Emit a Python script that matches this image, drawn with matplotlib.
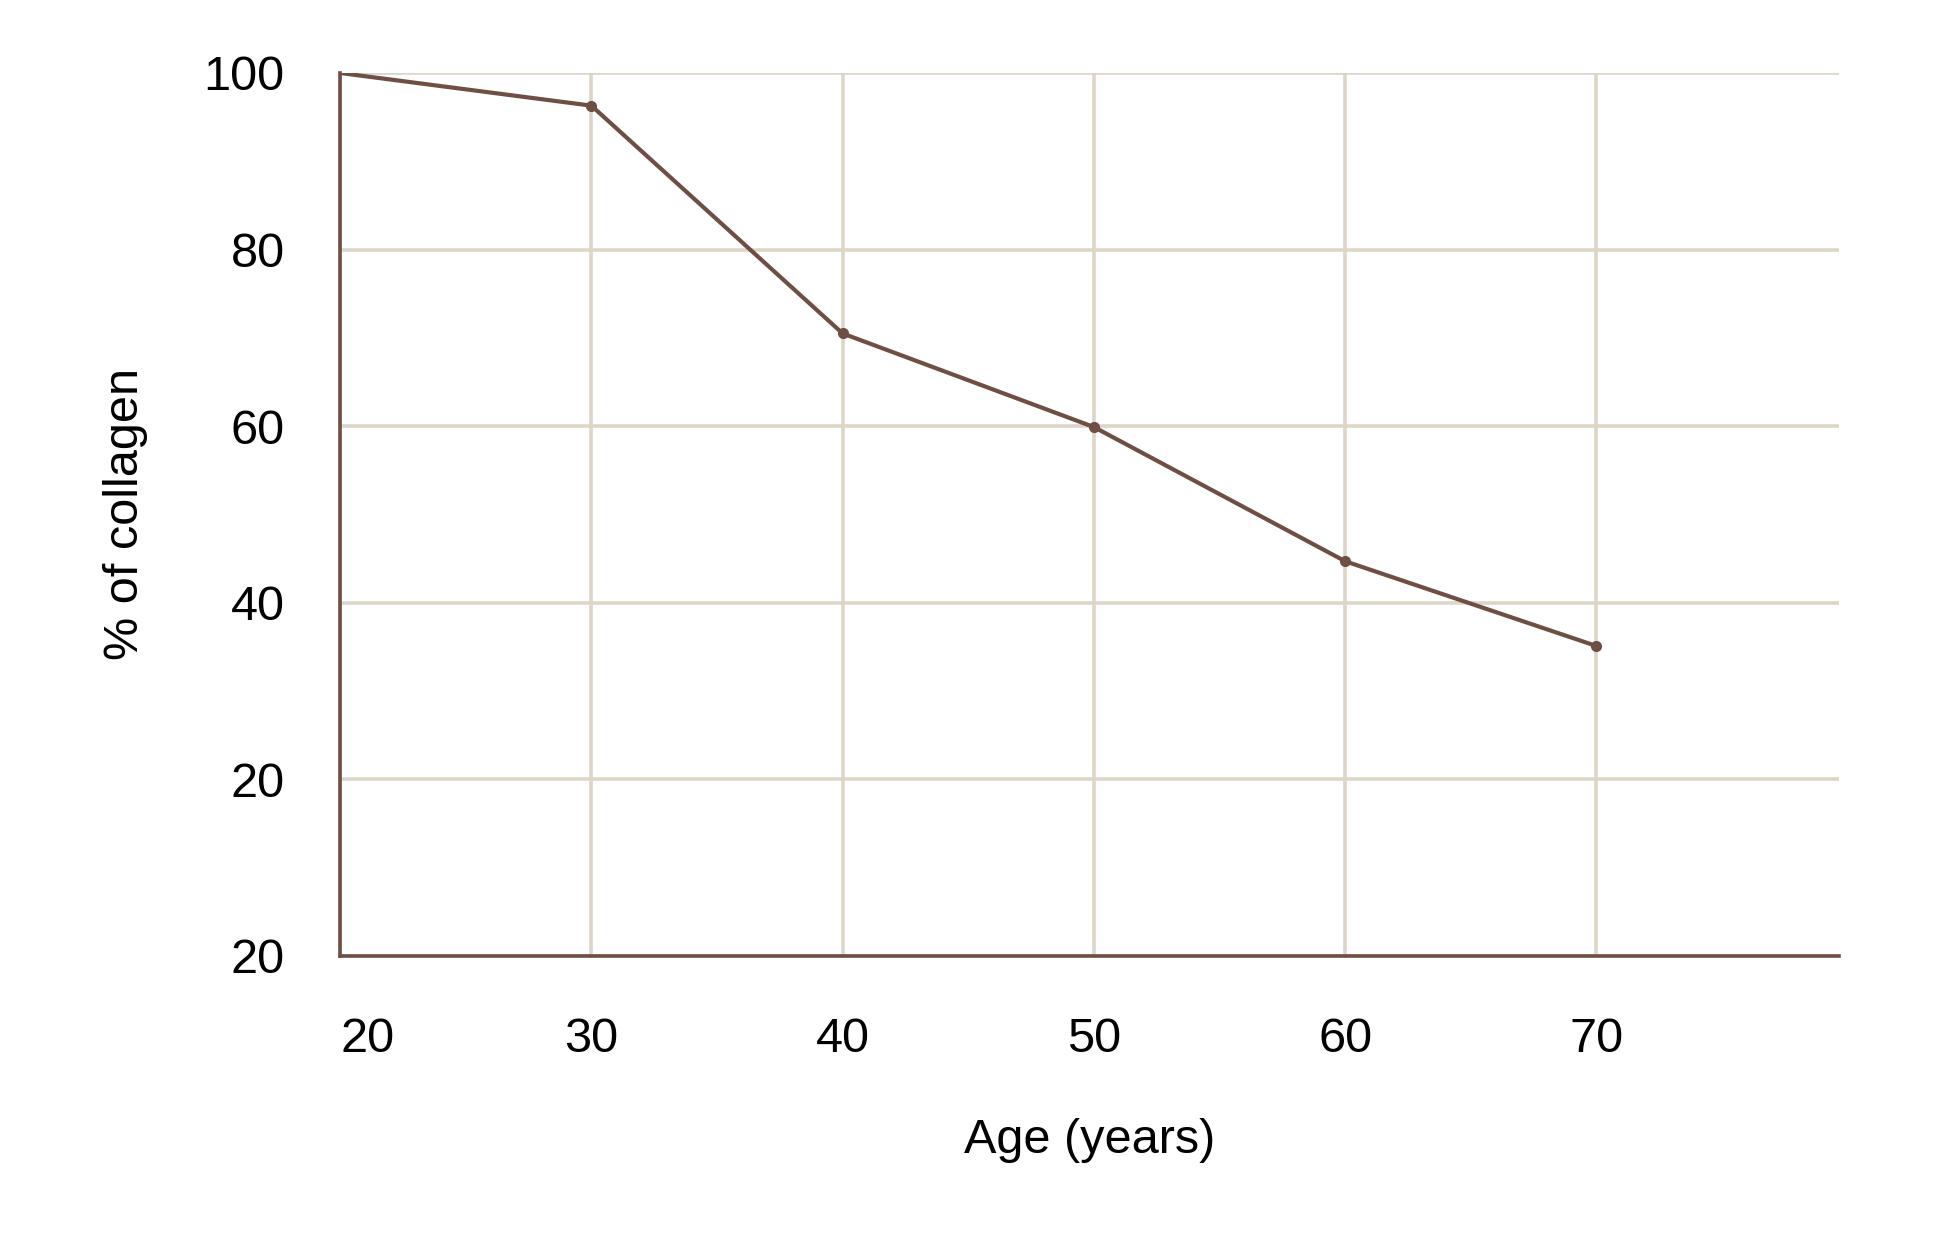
import matplotlib.pyplot as plt

# Collagen decline with age
age = [20, 30, 40, 50, 60, 70]
collagen = [100, 96.3, 70.5, 59.9, 44.7, 35.1]

y_ticks = [100, 80, 60, 40, 20, 0]
y_tick_labels = ['100', '80', '60', '40', '20', '20']
x_ticks = [20, 30, 40, 50, 60, 70]
x_tick_labels = ['20', '30', '40', '50', '60', '70']

line_color = '#6F4E44'
grid_color = '#DDD6C8'

plt.rcParams['font.family'] = ['Liberation Sans', 'DejaVu Sans']

fig = plt.figure(figsize=(19.39, 12.37), dpi=100)
ax = fig.add_axes([0.1754, 0.2272, 0.773, 0.7138])

ax.plot(age, collagen, color=line_color, linewidth=3.0, marker='o',
        markersize=7, markevery=list(range(1, len(age))), zorder=3,
        solid_capstyle='round')

ax.set_xlim(20, 79.65)
ax.set_ylim(0, 100)

ax.set_xticks(x_ticks)
ax.set_xticklabels(x_tick_labels)
ax.set_yticks(y_ticks)
ax.set_yticklabels(y_tick_labels)
ax.get_xticklabels()[0].set_horizontalalignment('left')

ax.tick_params(axis='both', length=0, labelsize=35, colors='black')
ax.tick_params(axis='x', pad=44)
ax.tick_params(axis='y', pad=40)

ax.grid(True, color=grid_color, linewidth=2.6)
ax.set_axisbelow(True)

for side in ['top', 'right']:
    ax.spines[side].set_visible(False)
for side in ['left', 'bottom']:
    ax.spines[side].set_color(line_color)
    ax.spines[side].set_linewidth(2.6)
    ax.spines[side].set_zorder(4)

ax.set_xlabel('Age (years)', fontsize=35, labelpad=40)
ax.set_ylabel('% of collagen', fontsize=35, labelpad=40)

fig.savefig('out.png', dpi=100, facecolor='white')
